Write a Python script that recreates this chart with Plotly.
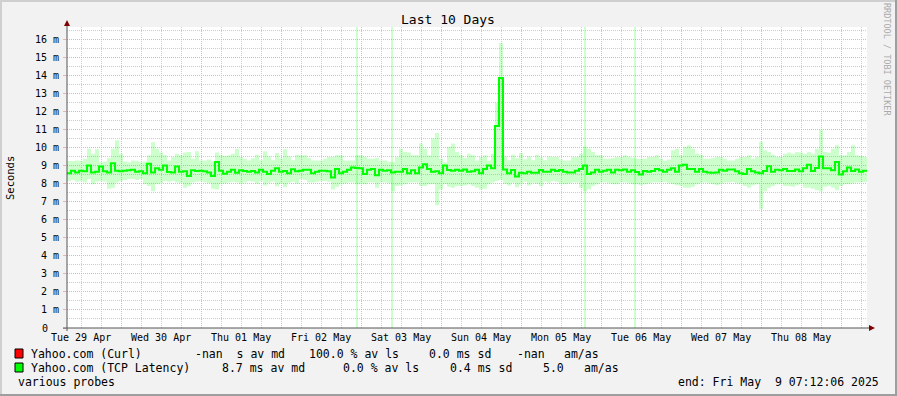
import plotly.graph_objects as go
import pandas as pd

# ---------------- data ----------------
title_text = "Last 10 Days"
range_start = "2025-04-29 07:48"
range_end = "2025-05-09 07:48"
sample_freq = "72min"

median_ms = [
    8.58, 8.72, 8.62, 8.72, 8.68, 9.00, 8.62, 8.66, 8.95, 8.68,
    8.62, 9.13, 8.72, 8.68, 8.72, 8.74, 8.77, 8.66, 8.68, 8.57,
    9.10, 8.62, 8.85, 8.77, 9.00, 8.64, 8.62, 8.95, 8.66, 8.68,
    8.43, 8.74, 8.70, 8.72, 8.68, 8.62, 8.43, 9.20, 8.72, 8.55,
    8.66, 8.77, 8.60, 8.74, 8.70, 8.66, 8.70, 8.62, 8.77, 8.66,
    8.53, 8.72, 8.85, 8.66, 8.70, 8.58, 8.80, 8.68, 8.72, 8.77,
    8.77, 8.57, 8.66, 8.72, 8.72, 8.68, 8.34, 8.81, 8.58, 8.66,
    8.77, 8.90, 8.87, 8.85, 8.53, 8.77, 8.81, 8.47, 8.77, 8.72,
    8.74, 8.62, 8.66, 8.66, 8.81, 8.57, 8.74, 8.58, 8.90, 9.08,
    8.81, 8.66, 8.68, 8.57, 9.00, 8.75, 8.72, 8.77, 8.72, 8.79,
    8.66, 8.68, 8.77, 8.57, 8.81, 9.00, 8.85, 11.20, 13.85, 8.79,
    8.57, 8.76, 8.39, 8.61, 8.57, 8.66, 8.60, 8.60, 8.75, 8.66,
    8.66, 8.77, 8.70, 8.75, 8.66, 8.62, 8.62, 8.72, 8.81, 9.00,
    8.53, 8.62, 8.77, 8.66, 8.72, 8.77, 8.62, 8.77, 8.74, 8.79,
    8.66, 8.74, 8.64, 8.51, 8.70, 8.66, 8.70, 8.81, 8.74, 8.66,
    8.77, 8.85, 8.66, 9.00, 9.04, 8.81, 8.81, 8.66, 8.81, 8.66,
    8.62, 8.60, 8.62, 8.77, 8.72, 8.79, 8.79, 8.68, 8.58, 8.53,
    8.81, 8.68, 8.62, 8.58, 8.70, 8.96, 8.66, 8.77, 8.74, 8.81,
    8.70, 8.70, 8.79, 8.68, 8.85, 9.05, 8.70, 8.87, 9.50, 8.85,
    8.85, 8.74, 9.20, 8.51, 8.68, 8.90, 8.70, 8.79, 8.66, 8.72,
]

smoke_hi_ms = [
    9.25, 9.25, 9.28, 9.25, 9.38, 9.94, 9.66, 9.90, 9.19, 9.22,
    9.42, 9.94, 10.40, 9.66, 9.22, 9.19, 9.28, 9.25, 9.19, 9.22,
    9.57, 10.30, 9.94, 9.72, 9.57, 9.28, 9.47, 9.66, 9.57, 9.72,
    9.75, 9.38, 9.80, 9.28, 9.28, 9.34, 9.22, 9.72, 9.57, 9.53,
    9.57, 9.66, 9.94, 9.47, 9.38, 9.28, 9.40, 9.60, 9.30, 9.80,
    9.50, 9.30, 9.70, 9.40, 9.90, 9.50, 9.30, 9.60, 9.57, 9.57,
    9.42, 9.28, 9.28, 9.28, 9.38, 9.47, 9.47, 9.57, 9.57, 9.28,
    9.28, 9.28, 9.57, 9.57, 9.47, 9.38, 9.38, 9.42, 9.28, 9.28,
    9.22, 9.19, 9.47, 9.94, 9.75, 9.72, 9.57, 9.57, 10.23, 9.94,
    9.57, 10.50, 10.80, 9.38, 9.19, 10.04, 10.23, 9.75, 9.57, 9.42,
    9.66, 9.57, 9.28, 9.47, 9.57, 9.28, 9.66, 12.50, 15.80, 9.50,
    9.30, 9.60, 9.40, 9.70, 9.35, 9.50, 9.30, 9.60, 9.45, 9.30,
    9.50, 9.47, 9.47, 9.34, 9.28, 9.28, 9.47, 9.47, 9.66, 10.04,
    9.94, 9.75, 9.57, 9.57, 9.38, 9.38, 9.42, 9.47, 9.47, 9.57,
    9.47, 9.42, 9.38, 9.38, 9.38, 9.47, 9.47, 9.57, 9.38, 9.28,
    9.34, 9.85, 9.94, 9.57, 10.04, 10.13, 9.94, 9.66, 9.60, 9.38,
    9.38, 9.42, 9.47, 9.47, 9.38, 9.28, 9.28, 9.38, 9.47, 9.47,
    9.57, 9.38, 9.47, 10.32, 9.85, 9.75, 9.60, 9.47, 9.47, 9.66,
    9.72, 9.66, 9.75, 9.72, 9.66, 9.75, 9.66, 9.94, 11.00, 9.75,
    9.72, 9.94, 10.13, 9.57, 9.57, 9.75, 10.13, 9.57, 9.53, 9.47,
]

smoke_lo_ms = [
    8.15, 8.20, 8.10, 8.15, 8.06, 8.25, 7.96, 8.10, 8.15, 8.10,
    7.72, 7.77, 8.06, 8.15, 8.20, 8.25, 8.25, 8.20, 8.25, 7.96,
    7.87, 7.58, 7.96, 8.02, 8.15, 8.10, 8.15, 8.06, 8.02, 7.77,
    7.87, 8.06, 8.10, 8.15, 8.06, 8.02, 7.72, 7.68, 7.96, 8.02,
    8.06, 8.10, 8.06, 7.96, 8.06, 8.15, 8.10, 8.00, 8.15, 7.90,
    8.05, 8.10, 7.85, 8.00, 7.80, 8.05, 8.10, 8.00, 8.25, 8.20,
    8.06, 8.06, 8.10, 8.15, 8.15, 8.10, 7.68, 7.83, 7.96, 8.02,
    8.06, 8.06, 7.96, 7.96, 7.96, 8.06, 8.06, 7.77, 8.06, 8.06,
    8.02, 7.58, 7.87, 7.90, 7.96, 8.06, 8.06, 8.06, 7.87, 7.87,
    7.96, 7.96, 6.80, 7.68, 7.96, 7.83, 7.77, 7.87, 7.87, 7.90,
    7.96, 7.87, 7.77, 7.68, 7.72, 7.96, 8.06, 8.15, 8.20, 8.00,
    7.90, 8.05, 7.80, 7.95, 8.10, 7.90, 8.05, 8.00, 7.85, 8.10,
    8.05, 8.15, 8.09, 7.96, 7.96, 8.02, 8.06, 8.06, 7.77, 7.58,
    7.68, 7.87, 7.96, 8.06, 8.06, 8.02, 7.96, 7.96, 8.06, 8.06,
    8.02, 7.96, 7.96, 7.91, 7.96, 8.02, 8.06, 8.06, 8.06, 8.09,
    8.02, 7.96, 7.91, 7.87, 7.77, 7.77, 7.83, 7.96, 8.02, 8.06,
    8.02, 7.96, 7.91, 7.96, 8.06, 8.06, 8.09, 8.02, 7.96, 7.87,
    7.77, 7.91, 7.96, 6.60, 7.58, 7.77, 7.87, 7.96, 7.96, 7.87,
    7.87, 7.83, 7.91, 7.96, 7.77, 7.77, 7.72, 7.64, 7.58, 7.83,
    7.87, 7.77, 7.64, 7.87, 7.96, 7.96, 8.02, 8.06, 8.06, 8.09,
]

# samples whose smoke runs off the whole chart
outlier_times = ["2025-05-02 22:39", "2025-05-03 09:15", "2025-05-05 19:12", "2025-05-06 10:12"]
outlier_lo_ms = [0, 0, 0, 0]
outlier_hi_ms = [20, 20, 20, 20]

x_tick_dates = ["2025-04-29 12:00", "2025-04-30 12:00", "2025-05-01 12:00", "2025-05-02 12:00",
                "2025-05-03 12:00", "2025-05-04 12:00", "2025-05-05 12:00", "2025-05-06 12:00",
                "2025-05-07 12:00", "2025-05-08 12:00"]
x_tick_text = ["Tue 29 Apr", "Wed 30 Apr", "Thu 01 May", "Fri 02 May", "Sat 03 May",
               "Sun 04 May", "Mon 05 May", "Tue 06 May", "Wed 07 May", "Thu 08 May"]

y_tick_vals = [0, 1, 2, 3, 4, 5, 6, 7, 8, 9, 10, 11, 12, 13, 14, 15, 16]
y_tick_text = ["", "1 m", "2 m", "3 m", "4 m", "5 m", "6 m", "7 m", "8 m", "9 m",
               "10 m", "11 m", "12 m", "13 m", "14 m", "15 m", "16 m"]
y_zero_label = "0"
y_max = 16.68

legend_names = ["Yahoo.com (Curl)", "Yahoo.com (TCP Latency)"]
legend_colors = ["#ff0000", "#00ff00"]
legend_stats = [
    ["-nan  s av md", "100.0 % av ls", "0.0 ms sd", "-nan", "am/as"],
    ["8.7 ms av md", "0.0 % av ls", "0.4 ms sd", "5.0", "am/as"],
]
footer_left = "various probes"
footer_right = "end: Fri May  9 07:12:06 2025"
watermark = "RRDTOOL / TOBI OETIKER"
y_title = "Seconds"

# ---------------- layout constants ----------------
W, H = 897, 396
L, R, T, B = 67, 867, 27, 328
PW, PH = R - L, B - T
FONT = "DejaVu Sans Mono"


def px(x):
    return (x - L) / PW


def py(y):
    return (B - y) / PH


def nb(s):
    return s.replace(" ", "\u00a0")


times = pd.date_range(range_start, periods=len(median_ms), freq=sample_freq)
edges = list(times) + [pd.Timestamp(range_end)]
SMOKE = "rgba(0,255,0,0.2)"

fig = go.Figure()
fig.add_trace(go.Scatter(x=edges, y=smoke_lo_ms + [smoke_lo_ms[-1]], mode="lines",
                         line=dict(width=0, shape="hv"), hoverinfo="skip", showlegend=False))
fig.add_trace(go.Scatter(x=edges, y=smoke_hi_ms + [smoke_hi_ms[-1]], mode="lines",
                         line=dict(width=0, shape="hv"), fill="tonexty", fillcolor=SMOKE,
                         hoverinfo="skip", showlegend=False))
fig.add_trace(go.Bar(x=pd.to_datetime(outlier_times),
                     y=[h - l for h, l in zip(outlier_hi_ms, outlier_lo_ms)],
                     base=outlier_lo_ms, width=[36 * 60 * 1000] * len(outlier_times),
                     marker=dict(color=SMOKE, line=dict(width=0)), showlegend=False))
fig.add_trace(go.Scatter(x=edges, y=median_ms + [median_ms[-1]], mode="lines",
                         line=dict(color="#00ff00", width=2, shape="hv"), showlegend=False))

GRID = "#cbcbcb"
MGRID = "#f0afaf"

fig.update_layout(
    xaxis=dict(
        type="date", range=[range_start, range_end],
        tick0="2025-04-30 00:00", dtick=86400000, showticklabels=False,
        showgrid=True, gridcolor=MGRID, griddash="1px,1px", gridwidth=1,
        minor=dict(tick0="2025-04-30 00:00", dtick=21600000, showgrid=True, gridcolor=GRID,
                   griddash="1px,1px", gridwidth=1),
        ticks="", showline=False, zeroline=False,
    ),
    yaxis=dict(
        range=[0, y_max], tickmode="array", tickvals=y_tick_vals, ticktext=[nb(t) for t in y_tick_text],
        showgrid=True, gridcolor=MGRID, griddash="1px,1px", gridwidth=1,
        minor=dict(tickmode="linear", tick0=0, dtick=0.5, showgrid=True, gridcolor=GRID,
                   griddash="1px,1px", gridwidth=1),
        ticks="outside", ticklen=3, tickcolor=MGRID, showline=False, zeroline=False,
        ticklabelstandoff=2,
        tickfont=dict(family=FONT, size=10, color="#000000"),
    ),
)

shapes = []
# frame shading
shapes.append(dict(type="rect", xref="paper", yref="paper", x0=px(0), x1=px(W), y0=py(0), y1=py(2),
                   fillcolor="#cfcfcf", line=dict(width=0), layer="above"))
shapes.append(dict(type="rect", xref="paper", yref="paper", x0=px(0), x1=px(2), y0=py(0), y1=py(H),
                   fillcolor="#cfcfcf", line=dict(width=0), layer="above"))
shapes.append(dict(type="rect", xref="paper", yref="paper", x0=px(0), x1=px(W), y0=py(H - 2), y1=py(H),
                   fillcolor="#9e9e9e", line=dict(width=0), layer="above"))
shapes.append(dict(type="rect", xref="paper", yref="paper", x0=px(W - 2), x1=px(W), y0=py(0), y1=py(H),
                   fillcolor="#9e9e9e", line=dict(width=0), layer="above"))
# axes with arrows
AX = "#555555"
ARROW = "#7f0000"
shapes.append(dict(type="line", xref="paper", yref="paper", x0=px(63), x1=px(870), y0=0, y1=0,
                   line=dict(color=AX, width=1), layer="above"))
shapes.append(dict(type="line", xref="paper", yref="paper", x0=0, x1=0, y0=py(331), y1=py(22),
                   line=dict(color=AX, width=1), layer="above"))
shapes.append(dict(type="path", xref="paper", yref="paper",
                   path=f"M {px(64)},{py(26)} L {px(70)},{py(26)} L {px(67)},{py(20)} Z",
                   fillcolor=ARROW, line=dict(width=0), layer="above"))
shapes.append(dict(type="path", xref="paper", yref="paper",
                   path=f"M {px(869)},{py(325)} L {px(869)},{py(331)} L {px(875)},{py(328)} Z",
                   fillcolor=ARROW, line=dict(width=0), layer="above"))
# legend swatches
for k, col in enumerate(legend_colors):
    y0 = 349 + 14 * k
    shapes.append(dict(type="rect", xref="paper", yref="paper", x0=px(15), x1=px(23),
                       y0=py(y0), y1=py(y0 + 9), fillcolor=col, line=dict(color="#000000", width=1),
                       layer="above"))

annotations = []


def add_text(text, x, y, size, anchor="left", color="#000000", angle=0):
    annotations.append(dict(text=nb(text), x=px(x), y=py(y), xref="paper", yref="paper",
                            xanchor=anchor, yanchor="middle", showarrow=False, textangle=angle,
                            font=dict(family=FONT, size=size, color=color), borderpad=0))


add_text(title_text, 447.5, 19.5, 13, anchor="center")
add_text(y_title, 10, 178, 10.5, anchor="center", angle=-90)
add_text(watermark, 887, 60, 8.5, anchor="center", color="#aaaaaa", angle=90)
add_text(y_zero_label, 45, 328, 10, anchor="center")

# day labels, placed on the time axis at noon of each day
for d, lab in zip(x_tick_dates, x_tick_text):
    annotations.append(dict(text=nb(lab), x=d, y=py(337.5), xref="x", yref="paper",
                            xanchor="center", yanchor="middle", showarrow=False, borderpad=0,
                            font=dict(family=FONT, size=10, color="#000000")))

stat_x = [[194, 307.7, 428.3, 515.7, 563.3], [221, 342.3, 449, 541.7, 583.3]]
for k, name in enumerate(legend_names):
    yc = 354 + 14.2 * k
    add_text(name, 30, yc, 11.5)
    for s, xs in zip(legend_stats[k], stat_x[k]):
        add_text(s, xs, yc, 11.5)
add_text(footer_left, 16.5, 381.7, 11.5)
add_text(footer_right, 880, 381.7, 11.5, anchor="right")

fig.update_layout(
    width=W, height=H, autosize=False,
    margin=dict(l=L, r=W - R, t=T, b=H - B, pad=0),
    paper_bgcolor="#f2f2f2", plot_bgcolor="#ffffff",
    showlegend=False, shapes=shapes, annotations=annotations,
    bargap=0, barmode="overlay",
)

fig.write_html("out.html", config={"displayModeBar": False},
               post_script="document.body.style.margin='0';")
